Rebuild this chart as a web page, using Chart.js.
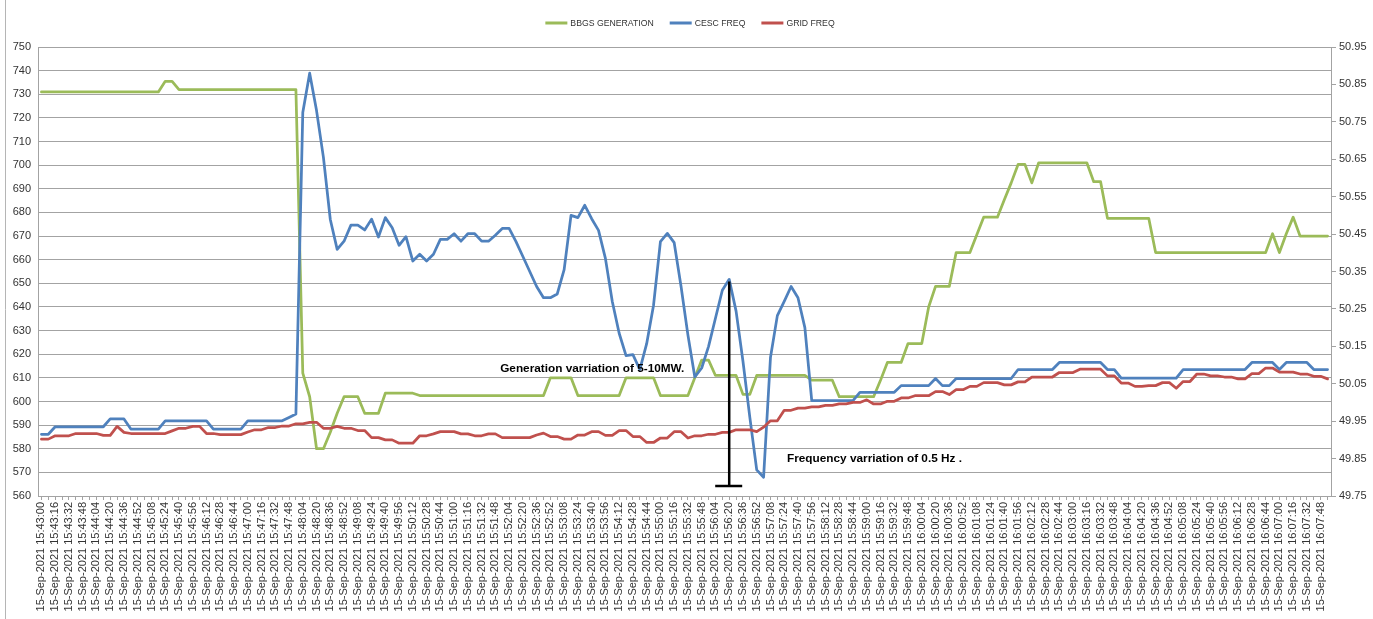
<!DOCTYPE html>
<html lang="en">
<head>
  <meta charset="UTF-8" />
  <title>BBGS generation vs frequency</title>
  <script src="https://cdn.jsdelivr.net/npm/chart.js"></script>
  <style>
    body { margin: 0; background: #fff; }
    canvas { display: block; }
  </style>
</head>
<body>
  <canvas id="freqChart" width="1373" height="619"></canvas>

  <script>
    // 15-Sep-2021, samples every 8 s from 15:43:00
    const startClock = [15, 43, 0];
    const stepSeconds = 8;

    // BBGS GENERATION (MW, left axis)
    const generation = [
      731,731,731,731,731,731,731,731,731,731,
      731,731,731,731,731,731,731,731,735.5,735.5,
      732,732,732,732,732,732,732,732,732,732,
      732,732,732,732,732,732,732,732,612,602,
      580,580,587,595,602,602,602,595,595,595,
      603.5,603.5,603.5,603.5,603.5,602.5,602.5,602.5,602.5,602.5,
      602.5,602.5,602.5,602.5,602.5,602.5,602.5,602.5,602.5,602.5,
      602.5,602.5,602.5,602.5,610,610,610,610,602.5,602.5,
      602.5,602.5,602.5,602.5,602.5,610,610,610,610,610,
      602.5,602.5,602.5,602.5,602.5,610,617.5,617.5,611,611,
      611,611,603,603,611,611,611,611,611,611,
      611,611,609,609,609,609,602,602,602,602,
      602,602,609,616.5,616.5,616.5,624.5,624.5,624.5,640,
      648.7,648.7,648.7,663,663,663,670.6,678,678,678,
      685.4,692.5,700.3,700.3,692.5,701,701,701,701,701,
      701,701,701,693,693,677.5,677.5,677.5,677.5,677.5,
      677.5,677.5,663,663,663,663,663,663,663,663,
      663,663,663,663,663,663,663,663,663,671,
      663,671,678,670,670,670,670,670
    ];

    // CESC FREQ (Hz, right axis)
    const cescFreq = [
      49.915,49.915,49.935,49.935,49.935,49.935,49.935,49.935,49.935,49.935,
      49.956,49.956,49.956,49.929,49.929,49.929,49.929,49.929,49.951,49.951,
      49.951,49.951,49.951,49.951,49.951,49.929,49.929,49.929,49.929,49.929,
      49.951,49.951,49.951,49.951,49.951,49.951,49.96,49.969,50.775,50.88,
      50.78,50.655,50.489,50.409,50.431,50.474,50.474,50.461,50.49,50.442,
      50.494,50.467,50.42,50.443,50.378,50.396,50.378,50.396,50.436,50.436,
      50.451,50.431,50.451,50.451,50.431,50.431,50.447,50.465,50.465,50.43,
      50.39,50.35,50.31,50.28,50.28,50.29,50.355,50.5,50.494,50.527,
      50.491,50.46,50.385,50.27,50.185,50.125,50.128,50.088,50.157,50.26,
      50.43,50.452,50.427,50.31,50.18,50.068,50.092,50.15,50.225,50.3,
      50.329,50.244,50.11,49.96,49.82,49.8,50.12,50.232,50.27,50.31,
      50.28,50.2,50.005,50.005,50.005,50.005,50.005,50.005,50.005,50.027,
      50.027,50.027,50.027,50.027,50.027,50.045,50.045,50.045,50.045,50.045,
      50.064,50.045,50.045,50.064,50.064,50.064,50.064,50.064,50.064,50.064,
      50.064,50.064,50.088,50.088,50.088,50.088,50.088,50.088,50.107,50.107,
      50.107,50.107,50.107,50.107,50.107,50.088,50.088,50.065,50.065,50.065,
      50.065,50.065,50.065,50.065,50.065,50.065,50.088,50.088,50.088,50.088,
      50.088,50.088,50.088,50.088,50.088,50.088,50.107,50.107,50.107,50.107,
      50.088,50.107,50.107,50.107,50.107,50.088,50.088,50.088
    ];

    // GRID FREQ (Hz, right axis)
    const gridFreq = [
      49.902,49.902,49.911,49.911,49.911,49.917,49.917,49.917,49.917,49.912,
      49.912,49.936,49.92,49.917,49.917,49.917,49.917,49.917,49.917,49.924,
      49.931,49.931,49.936,49.936,49.917,49.917,49.914,49.914,49.914,49.914,
      49.921,49.927,49.927,49.933,49.933,49.937,49.937,49.943,49.943,49.947,
      49.947,49.931,49.931,49.936,49.931,49.931,49.925,49.925,49.906,49.906,
      49.9,49.9,49.891,49.891,49.891,49.911,49.911,49.916,49.922,49.922,
      49.922,49.916,49.916,49.911,49.911,49.916,49.916,49.906,49.906,49.906,
      49.906,49.906,49.913,49.918,49.909,49.909,49.902,49.902,49.913,49.913,
      49.922,49.922,49.912,49.912,49.925,49.925,49.909,49.909,49.893,49.893,
      49.905,49.905,49.922,49.922,49.905,49.911,49.911,49.915,49.915,49.92,
      49.92,49.927,49.927,49.927,49.922,49.934,49.951,49.951,49.979,49.979,
      49.985,49.985,49.988,49.988,49.992,49.992,49.996,49.996,50.0,50.0,
      50.007,49.996,49.996,50.003,50.003,50.012,50.012,50.018,50.018,50.018,
      50.029,50.029,50.021,50.034,50.034,50.043,50.043,50.053,50.053,50.053,
      50.047,50.047,50.055,50.055,50.068,50.068,50.068,50.068,50.08,50.08,
      50.08,50.089,50.089,50.089,50.089,50.071,50.071,50.052,50.052,50.043,
      50.043,50.045,50.045,50.053,50.053,50.038,50.056,50.056,50.076,50.076,
      50.071,50.071,50.068,50.068,50.063,50.063,50.077,50.077,50.092,50.092,
      50.081,50.081,50.081,50.076,50.076,50.07,50.07,50.063
    ];

    const freqTicks = [49.75, 49.85, 49.95, 50.05, 50.15, 50.25, 50.35, 50.45, 50.55, 50.65, 50.75, 50.85, 50.95];

    const pad2 = n => String(n).padStart(2, '0');
    const timeLabels = [];
    for (let i = 0; i < generation.length; i++) {
      const s = startClock[0] * 3600 + startClock[1] * 60 + startClock[2] + i * stepSeconds;
      timeLabels.push(`15-Sep-2021 ${pad2(Math.floor(s / 3600))}:${pad2(Math.floor(s / 60) % 60)}:${pad2(s % 60)}`);
    }

    const FONT = '"Liberation Sans", Arial, sans-serif';
    const GRID = '#a3a3a3';

    // Excel-style legend strip above the plot
    const legendStrip = {
      id: 'legendStrip',
      afterDraw(chart) {
        const ctx = chart.ctx;
        ctx.save();
        ctx.font = `8.7px ${FONT}`;
        ctx.textBaseline = 'middle';
        const items = chart.data.datasets.map(d => ({ text: d.label, color: d.borderColor, w: 25 + ctx.measureText(d.label).width }));
        const total = items.reduce((a, it) => a + it.w, 0) + 16 * (items.length - 1);
        let cx = 690 - total / 2;
        const cy = 23;
        items.forEach(it => {
          ctx.strokeStyle = it.color;
          ctx.lineWidth = 3;
          ctx.beginPath();
          ctx.moveTo(cx, cy);
          ctx.lineTo(cx + 22, cy);
          ctx.stroke();
          ctx.fillStyle = '#333';
          ctx.fillText(it.text, cx + 25, cy + 0.5);
          cx += it.w + 16;
        });
        // outer chart border (cropped)
        ctx.strokeStyle = '#b5b5b5';
        ctx.lineWidth = 1;
        ctx.beginPath();
        ctx.moveTo(5.5, 0);
        ctx.lineTo(5.5, 619);
        ctx.stroke();
        ctx.restore();
      }
    };

    // hand-written notes on the original chart
    const notes = {
      id: 'notes',
      afterDatasetsDraw(chart) {
        const { ctx, scales: { x, y } } = chart;
        ctx.save();
        ctx.fillStyle = '#000';
        ctx.font = `bold 11.8px ${FONT}`;
        ctx.textBaseline = 'middle';
        ctx.fillText('Generation varriation of 5-10MW.', x.getPixelForValue(66.7), y.getPixelForValue(613.8));
        ctx.fillText('Frequency varriation of 0.5 Hz .', x.getPixelForValue(108.4), y.getPixelForValue(575.7));

        const bx = x.getPixelForValue(100);
        const yTop = y.getPixelForValue(650.8);
        const yBot = y.getPixelForValue(564.2);
        ctx.strokeStyle = '#000';
        ctx.lineWidth = 2.5;
        ctx.beginPath();
        ctx.moveTo(bx, yTop);
        ctx.lineTo(bx, yBot);
        ctx.moveTo(bx - 14, yBot);
        ctx.lineTo(bx + 13, yBot);
        ctx.stroke();
        ctx.restore();
      }
    };

    const lineStyle = {
      borderWidth: 2.75,
      pointRadius: 0,
      tension: 0,
      borderJoinStyle: 'round',
      borderCapStyle: 'round',
      fill: false
    };

    new Chart(document.getElementById('freqChart').getContext('2d'), {
      type: 'line',
      data: {
        labels: timeLabels,
        datasets: [
          { ...lineStyle, label: 'BBGS GENERATION', data: generation, borderColor: '#9BBB59', yAxisID: 'y', order: 3 },
          { ...lineStyle, label: 'CESC FREQ', data: cescFreq, borderColor: '#4F81BD', yAxisID: 'y1', order: 2 },
          { ...lineStyle, label: 'GRID FREQ', data: gridFreq, borderColor: '#C0504D', yAxisID: 'y1', order: 1 }
        ]
      },
      options: {
        responsive: false,
        animation: false,
        devicePixelRatio: 1,
        layout: { padding: { top: 47, left: 0, right: 0, bottom: 0 } },
        plugins: {
          legend: { display: false },
          tooltip: { enabled: false }
        },
        scales: {
          x: {
            offset: true,
            grid: { drawOnChartArea: false, color: GRID, tickLength: 4 },
            border: { color: GRID },
            ticks: {
              autoSkip: false,
              minRotation: 90,
              maxRotation: 90,
              padding: 2,
              color: '#333',
              font: { family: FONT, size: 11 },
              callback: (v, i) => (i % 2 === 0 ? timeLabels[i] : '')
            },
            afterFit: s => { s.height = 123; }
          },
          y: {
            position: 'left',
            min: 560,
            max: 750,
            grid: { color: GRID, drawTicks: false },
            border: { color: GRID },
            ticks: { stepSize: 10, padding: 7, color: '#333', font: { family: FONT, size: 11 } },
            afterFit: s => { s.width = 38; }
          },
          y1: {
            position: 'right',
            min: 49.75,
            max: 50.95,
            grid: { drawOnChartArea: false, color: GRID, tickLength: 5 },
            border: { color: GRID },
            ticks: { padding: 3, color: '#333', font: { family: FONT, size: 11 }, callback: v => v.toFixed(2) },
            afterBuildTicks: s => { s.ticks = freqTicks.map(v => ({ value: v })); },
            afterFit: s => { s.width = 42; }
          }
        }
      },
      plugins: [legendStrip, notes]
    });
  </script>
</body>
</html>
